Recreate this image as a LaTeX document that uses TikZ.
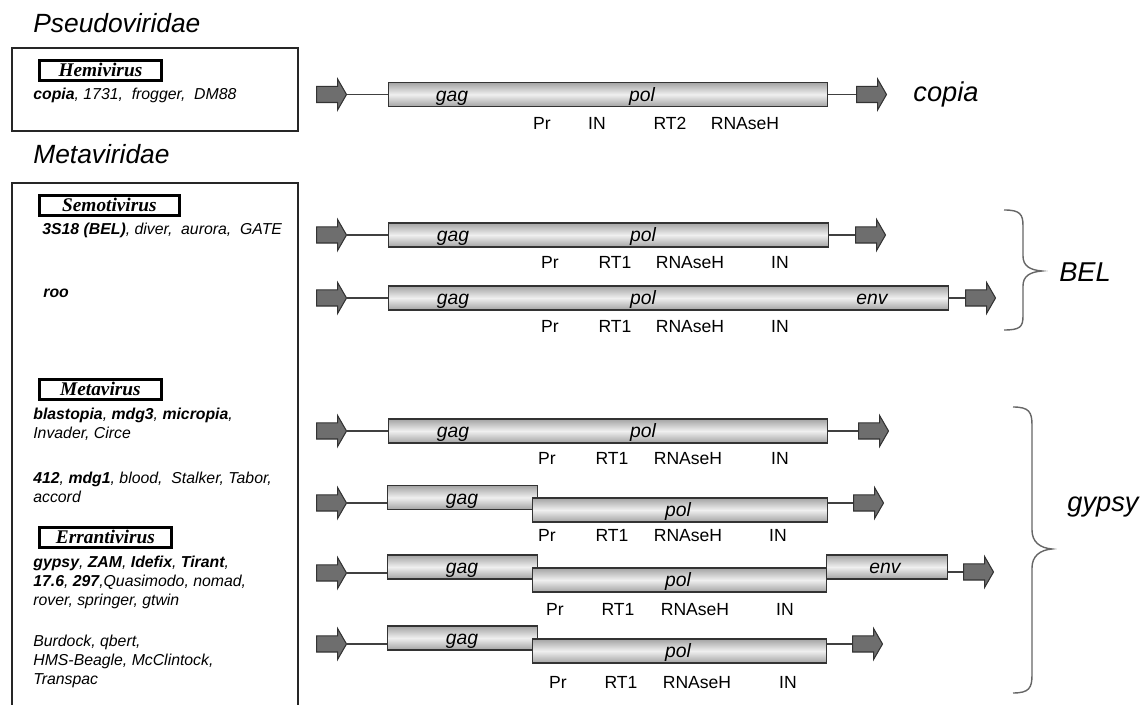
\documentclass[tikz,border=0pt]{standalone}
\usepackage{fontspec}
\setmainfont{Liberation Sans}
\newfontfamily\genusfont{Liberation Serif}
\usetikzlibrary{shapes.arrows}

\tikzset{
	orf/.style={draw=black!80, line width=0.7pt, top color=black!36, bottom color=black!36, middle color=black!6, minimum height=0.48cm, inner sep=0pt, anchor=west},
	ltr/.style={single arrow, draw=black!80, fill=black!57, line width=0.6pt, minimum width=0.62cm, minimum height=0.6cm, inner xsep=0pt, inner ysep=0.15cm, single arrow head extend=0.15cm, single arrow tip angle=120, anchor=tail},
	stem/.style={draw=black!75, line width=0.6pt},
	gene/.style={anchor=base, inner sep=0pt, font=\fontsize{11}{13}\selectfont\itshape},
	dom/.style={anchor=base, inner sep=0pt, font=\fontsize{10}{12}\selectfont},
	genus/.style={draw, line width=1.6pt, minimum height=0.4cm, inner sep=0pt, anchor=north west, font=\genusfont\fontsize{11}{13}\selectfont\bfseries\itshape},
	species/.style={anchor=west, align=left, inner sep=0pt, font=\fontsize{9}{10.8}\selectfont\itshape},
	family/.style={anchor=base west, inner sep=0pt, font=\fontsize{15}{18}\selectfont\itshape},
	clade/.style={anchor=base, inner sep=0pt, font=\fontsize{15.5}{18}\selectfont\itshape},
	panel/.style={draw=black!85, line width=0.8pt},
	brace/.style={draw=black!60, line width=0.8pt}
}

\begin{document}
\begin{tikzpicture}[x=0.02cm, y=-0.02cm]
	\useasboundingbox (0,0) rectangle (1147,705);

	% classification panel
	\node[family] (pseudo) at (33,33) {Pseudoviridae};
	\draw[panel] (12,48) rectangle (298,131);
	\node[family] (meta) at (33,164) {Metaviridae};
	\draw[panel] (12,706) -- (12,183) -- (298,183) -- (298,706);

	\node[genus, minimum width=2.44cm] (hemi) at (38,59) {Hemivirus};
	\node[species] (sp-copia) at (33,95) {\textbf{copia}, 1731,\ \ frogger,\ \ DM88};
	\node[genus, minimum width=2.8cm] (semo) at (38,194) {Semotivirus};
	\node[species] (sp-bel) at (42,230) {\textbf{3S18 (BEL)}, diver,\ \ aurora,\ \ GATE};
	\node[species] (sp-roo) at (43,293) {\textbf{roo}};
	\node[genus, minimum width=2.44cm] (metav) at (38,378) {Metavirus};
	\node[species] (sp-mdg3) at (33,424) {\textbf{blastopia}, \textbf{mdg3}, \textbf{micropia},\\Invader, Circe};
	\node[species] (sp-mdg1) at (33,487) {\textbf{412}, \textbf{mdg1}, blood,\ \ Stalker, Tabor,\\accord};
	\node[genus, minimum width=2.64cm] (erra) at (38,526) {Errantivirus};
	\node[species] (sp-gypsy) at (33,582) {\textbf{gypsy}, \textbf{ZAM}, \textbf{Idefix}, \textbf{Tirant},\\\textbf{17.6}, \textbf{297},Quasimodo,\ nomad,\\rover,\ springer, gtwin};
	\node[species] (sp-other) at (33,661) {Burdock, qbert,\\HMS-Beagle,\ McClintock,\\Transpac};

	% copia
	\node[ltr] (l-copia) at (316,94.5) {};
	\node[orf, minimum width=8.78cm] (o-copia) at (388,94.5) {};
	\node[ltr] (r-copia) at (856,94.5) {};
	\draw[stem] (l-copia.tip) -- (o-copia.west);
	\draw[stem] (o-copia.east) -- (r-copia.tail);
	\node[gene] (gag-copia) at (452,101.5) {gag};
	\node[gene] (pol-copia) at (642,101.5) {pol};
	\foreach \d/\xx in {Pr/542,IN/597,RT2/670,RNAseH/745}
		\node[dom] (\d-copia) at (\xx,130) {\d};
	\node[clade] (copia) at (946,102) {copia};

	% BEL
	\node[ltr] (l-bel1) at (316,235) {};
	\node[orf, minimum width=8.8cm] (o-bel1) at (388,235) {};
	\node[ltr] (r-bel1) at (855,235) {};
	\draw[stem] (l-bel1.tip) -- (o-bel1.west);
	\draw[stem] (o-bel1.east) -- (r-bel1.tail);
	\node[gene] (gag-bel1) at (453,242) {gag};
	\node[gene] (pol-bel1) at (643,242) {pol};
	\foreach \d/\xx in {Pr/550,RT1/615,RNAseH/690,IN/780}
		\node[dom] (\d-bel1) at (\xx,269) {\d};

	\node[ltr] (l-bel2) at (316,298) {};
	\node[orf, minimum width=11.2cm] (o-bel2) at (388,298) {};
	\node[ltr] (r-bel2) at (965,298) {};
	\draw[stem] (l-bel2.tip) -- (o-bel2.west);
	\draw[stem] (o-bel2.east) -- (r-bel2.tail);
	\node[gene] (gag-bel2) at (453,305) {gag};
	\node[gene] (pol-bel2) at (643,305) {pol};
	\node[gene] (env-bel2) at (872,305) {env};
	\foreach \d/\xx in {Pr/550,RT1/615,RNAseH/690,IN/780}
		\node[dom] (\d-bel2) at (\xx,333) {\d};

	\draw[brace] (1004,210) .. controls (1020,210) and (1023,214) .. (1023,226) -- (1023,256) .. controls (1023,266) and (1030,270) .. (1042,271) .. controls (1030,272) and (1023,276) .. (1023,286) -- (1023,316) .. controls (1023,327) and (1020,330) .. (1004,330);
	\node[clade] (bel) at (1085,282) {BEL};

	% gypsy
	\node[ltr] (l-g1) at (316,431) {};
	\node[orf, minimum width=8.78cm] (o-g1) at (388,431) {};
	\node[ltr] (r-g1) at (858,431) {};
	\draw[stem] (l-g1.tip) -- (o-g1.west);
	\draw[stem] (o-g1.east) -- (r-g1.tail);
	\node[gene] (gag-g1) at (453,438) {gag};
	\node[gene] (pol-g1) at (643,438) {pol};
	\foreach \d/\xx in {Pr/547,RT1/612,RNAseH/688,IN/780}
		\node[dom] (\d-g1) at (\xx,465) {\d};

	\node[ltr] (l-g2) at (316,503) {};
	\node[orf, minimum width=3cm] (a-g2) at (387,497.5) {};
	\node[orf, minimum width=5.9cm] (b-g2) at (532,510) {};
	\node[ltr] (r-g2) at (853,503) {};
	\draw[stem] (l-g2.tip) -- (l-g2.tip -| a-g2.west);
	\draw[stem] (b-g2.east |- r-g2.tail) -- (r-g2.tail);
	\node[gene] (gag-g2) at (462,504.5) {gag};
	\node[gene] (pol-g2) at (678,517) {pol};
	\foreach \d/\xx in {Pr/547,RT1/612,RNAseH/688,IN/778}
		\node[dom] (\d-g2) at (\xx,542) {\d};

	\node[ltr] (l-g3) at (316,573) {};
	\node[orf, minimum width=3cm] (a-g3) at (387,567) {};
	\node[orf, minimum width=5.88cm] (b-g3) at (532,580) {};
	\node[orf, minimum width=2.42cm] (c-g3) at (826,567) {};
	\node[ltr] (r-g3) at (963,572) {};
	\draw[stem] (l-g3.tip) -- (l-g3.tip -| a-g3.west);
	\draw[stem] (c-g3.east |- r-g3.tail) -- (r-g3.tail);
	\node[gene] (gag-g3) at (462,574) {gag};
	\node[gene] (pol-g3) at (678,587) {pol};
	\node[gene] (env-g3) at (885,574) {env};
	\foreach \d/\xx in {Pr/555,RT1/618,RNAseH/695,IN/785}
		\node[dom] (\d-g3) at (\xx,616) {\d};

	\node[ltr] (l-g4) at (316,644) {};
	\node[orf, minimum width=3cm] (a-g4) at (387,638) {};
	\node[orf, minimum width=5.88cm] (b-g4) at (532,651) {};
	\node[ltr] (r-g4) at (852,644) {};
	\draw[stem] (l-g4.tip) -- (l-g4.tip -| a-g4.west);
	\draw[stem] (b-g4.east |- r-g4.tail) -- (r-g4.tail);
	\node[gene] (gag-g4) at (462,645) {gag};
	\node[gene] (pol-g4) at (678,658) {pol};
	\foreach \d/\xx in {Pr/558,RT1/621,RNAseH/697,IN/788}
		\node[dom] (\d-g4) at (\xx,689) {\d};

	\draw[brace] (1013,407) .. controls (1029,407) and (1032,412) .. (1032,425) -- (1032,530) .. controls (1032,542) and (1040,548) .. (1052,549) .. controls (1040,550) and (1032,556) .. (1032,568) -- (1032,675) .. controls (1032,688) and (1029,693) .. (1013,693);
	\node[clade] (gypsy) at (1103,512) {gypsy};
\end{tikzpicture}
\end{document}
